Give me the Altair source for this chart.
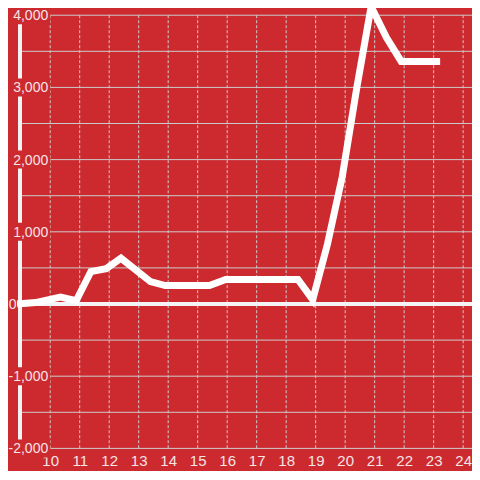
import altair as alt
import pandas as pd

# ---- data ----
x_vals = [8.88, 9.5, 10.35, 10.88, 11.38, 11.9, 12.4, 13.4, 13.9, 15.4, 15.95,
          18.4, 18.9, 19.4, 19.9, 20.4, 20.88, 21.4, 21.9, 23.22]
y_vals = [0, 20, 95, 45, 450, 490, 635, 310, 255, 255, 340,
          340, 60, 830, 1760, 3010, 4120, 3690, 3360, 3360]
y_grid = [-2000, -1500, -1000, -500, 0, 500, 1000, 1500, 2000, 2500, 3000, 3500, 4000]
y_labels = [-2000, -1000, 1000, 2000, 3000, 4000]
zero_label = [0]
x_ticks = list(range(10, 25))

BG = "#cc2a2f"
LABEL = "#f5e4e4"
GRID = "#cccccc"
FONT = "Liberation Sans"
W, H = 451.3, 440.4
PX_PER_UNIT = H / 6100.0
BOX_HALF = 9 / PX_PER_UNIT

xs = alt.Scale(domain=[9, 24.3], nice=False, zero=False)
ys = alt.Scale(domain=[-2000, 4100], nice=False, zero=False)
x_axis = alt.Axis(values=x_ticks, grid=False, domain=False, ticks=False, tickSize=0,
                  labelPadding=5, labelFontSize=15, labelColor=LABEL, labelFont=FONT,
                  format="d", title=None, labelFlush=False)

series = pd.DataFrame({"x": x_vals, "y": y_vals})
hgrid_df = pd.DataFrame({"v": y_grid})
vgrid_df = pd.DataFrame({"x": x_ticks, "top": max(y_labels), "bottom": min(y_labels)})
lab_df = pd.DataFrame({"v": y_labels})
lab_df["lo"] = lab_df["v"] - BOX_HALF
lab_df["hi"] = lab_df["v"] + BOX_HALF
lab_df["t"] = lab_df["v"].map(lambda v: f"{v:,}")
zero_df = pd.DataFrame({"v": zero_label, "t": [str(v) for v in zero_label]})

hgrid = alt.Chart(hgrid_df).mark_rule(color=GRID, strokeWidth=1).encode(
    y=alt.Y("v:Q", scale=ys, axis=None))

vgrid = alt.Chart(vgrid_df).mark_rule(color=GRID, strokeWidth=1, strokeDash=[3, 2]).encode(
    x=alt.X("x:Q", scale=xs, axis=x_axis),
    y=alt.Y("top:Q", scale=ys, axis=None),
    y2="bottom:Q")

axis_line = alt.Chart(hgrid_df).mark_rule(color="#f4f4f4", strokeWidth=3).encode(
    x=alt.value(-0.5), y=alt.value(0), y2=alt.value(H))

zero_line = alt.Chart(series.head(1)).mark_rule(color="#f4f4f4", strokeWidth=4).encode(
    x=alt.X("x:Q", scale=xs, axis=x_axis),
    x2=alt.value(W),
    y=alt.Y("y:Q", scale=ys, axis=None))

line = alt.Chart(series).mark_line(color="white", strokeWidth=7, strokeJoin="miter").encode(
    x=alt.X("x:Q", scale=xs, axis=x_axis),
    y=alt.Y("y:Q", scale=ys, axis=None))

boxes = alt.Chart(lab_df).mark_rect(color=BG).encode(
    x=alt.value(-20), x2=alt.value(29.5),
    y=alt.Y("lo:Q", scale=ys, axis=None), y2="hi:Q")

labels = alt.Chart(lab_df).mark_text(align="right", baseline="middle", fontSize=14,
                                     font=FONT, color=LABEL, dy=1).encode(
    x=alt.value(27.5), y=alt.Y("v:Q", scale=ys, axis=None), text="t:N")

zlabel = alt.Chart(zero_df).mark_text(align="right", baseline="middle", fontSize=14,
                                      font=FONT, color=LABEL, dy=1).encode(
    x=alt.value(-4.2), y=alt.Y("v:Q", scale=ys, axis=None), text="t:N")

chart = alt.layer(hgrid, vgrid, axis_line, zero_line, line, boxes, labels, zlabel).properties(
    width=W, height=H,
    autosize=alt.AutoSizeParams(type="none"),
    padding={"left": 12.7, "top": 0, "right": 0, "bottom": 23},
    background=BG,
).configure_view(stroke=None)

chart.save("out.html", embed_options={"renderer": "svg", "actions": False})
